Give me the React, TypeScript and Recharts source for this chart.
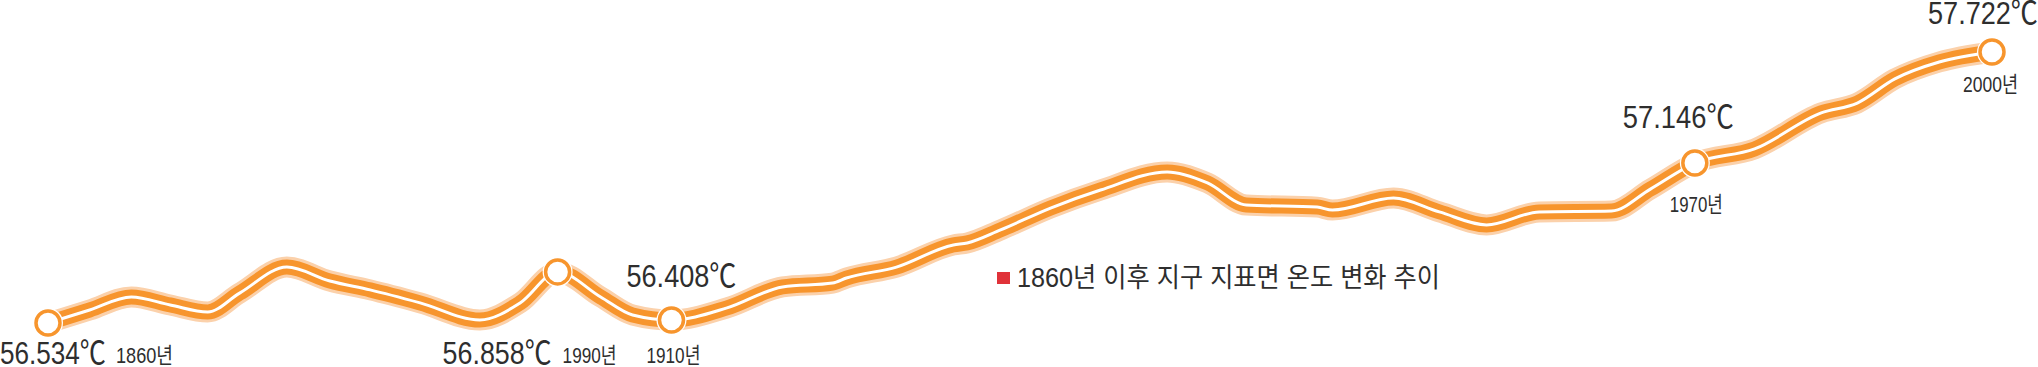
import { LineChart, Line, XAxis, YAxis } from "recharts"

// curve (year, °C)
const years = [
  1860, 1863.0, 1866.0, 1868.8, 1871.5, 1873.8, 1877.2, 1880.3, 1883.2, 1886.8,
  1891.1, 1894.0, 1896.7, 1899.8, 1902.1, 1904.9, 1908.9, 1912.9, 1916.5, 1917.5,
  1921.1, 1925.2, 1926.2, 1928.6, 1932.2, 1935.8, 1940.6, 1943.5, 1946.3, 1951.4,
  1952.5, 1956.9, 1960.2, 1963.6, 1967.4, 1972.6, 1975.4, 1978.6, 1982.9, 1987.7,
  1990.3, 1993.0, 1996.2, 2000,
]
const temps = [
  56.534, 56.591, 56.648, 56.613, 56.582, 56.665, 56.779, 56.718, 56.679, 56.622,
  56.547, 56.622, 56.758, 56.648, 56.569, 56.547, 56.6, 56.692, 56.709, 56.731,
  56.779, 56.876, 56.885, 56.942, 57.038, 57.117, 57.196, 57.148, 57.051, 57.042,
  57.029, 57.082, 57.021, 56.964, 57.021, 57.025, 57.121, 57.235, 57.297, 57.455,
  57.498, 57.604, 57.678, 57.722,
]
const markerYears = [1860, 1896.7, 1904.9, 1978.6, 2000]
const tempLabels = ["56.534℃", "56.858℃", "56.408℃", "57.146℃", "57.722℃"]
const yearLabels = ["1860년", "1990년", "1910년", "1970년", "2000년"]
const legendLabel = "1860년 이후 지구 지표면 온도 변화 추이"

const data = years.map((year, i) => ({ year, temp: temps[i] }))

// label placement relative to each marker: [dx, dy, width]
const tempPos = [
  [-48, 41, 106],
  [-115, 92, 109],
  [-45, -33, 110],
  [-72, -35, 111],
  [-64, -28, 110],
]
const yearPos = [
  [68, 40, 57],
  [5, 91, 54],
  [-25, 43, 54],
  [-25, 49, 53],
  [-29, 40, 55],
]

const FONT = "'Liberation Sans', Arial, 'Noto Sans CJK KR', sans-serif"
const ORANGE = "#f7952d"
const PEACH = "#fbd1ab"
const TEXT = "#2e2e2e"

function MarkerDot(props: any) {
  const { cx, cy, payload, index } = props
  const m = markerYears.indexOf(payload.year)
  if (m < 0) return <g key={`d-${index}`} />
  const [tdx, tdy, tw] = tempPos[m]
  const [ydx, ydy, yw] = yearPos[m]
  return (
    <g key={`d-${index}`}>
      <circle cx={cx} cy={cy} r={15} fill="#fff" />
      <circle cx={cx} cy={cy} r={12} fill="#fff" stroke={ORANGE} strokeWidth={3.5} />
      <text
        x={cx + tdx}
        y={cy + tdy}
        fontSize={32}
        fill={TEXT}
        fontFamily={FONT}
        textLength={tw}
        lengthAdjust="spacingAndGlyphs"
      >
        {tempLabels[m]}
      </text>
      <text
        x={cx + ydx}
        y={cy + ydy}
        fontSize={22}
        fill={TEXT}
        fontFamily={FONT}
        textLength={yw}
        lengthAdjust="spacingAndGlyphs"
      >
        {yearLabels[m]}
      </text>
    </g>
  )
}

export default function App() {
  return (
    <div style={{ position: "absolute", left: 0, top: 0, width: 2038, height: 367, background: "#fff" }}>
      <LineChart
        width={2038}
        height={367}
        data={data}
        margin={{ top: 0, right: 0, bottom: 0, left: 0 }}
      >
        <XAxis hide type="number" dataKey="year" domain={[1856.543, 2003.313]} allowDataOverflow />
        <YAxis hide domain={[56.341, 57.95]} allowDataOverflow />
        <Line type="monotone" dataKey="temp" stroke={PEACH} strokeWidth={21} dot={false} activeDot={false} isAnimationActive={false} />
        <Line type="monotone" dataKey="temp" stroke={ORANGE} strokeWidth={15} dot={false} activeDot={false} isAnimationActive={false} />
        <Line type="monotone" dataKey="temp" stroke="#fff" strokeWidth={3} dot={MarkerDot} activeDot={false} isAnimationActive={false} />
      </LineChart>
      <svg style={{ position: "absolute", left: 990, top: 255 }} width={470} height={45}>
        <rect x={7} y={17} width={13} height={12} fill="#e03239" />
        <text
          x={27}
          y={32}
          fontSize={27}
          fill={TEXT}
          fontFamily={FONT}
          textLength={423}
          lengthAdjust="spacingAndGlyphs"
        >
          {legendLabel}
        </text>
      </svg>
    </div>
  )
}
